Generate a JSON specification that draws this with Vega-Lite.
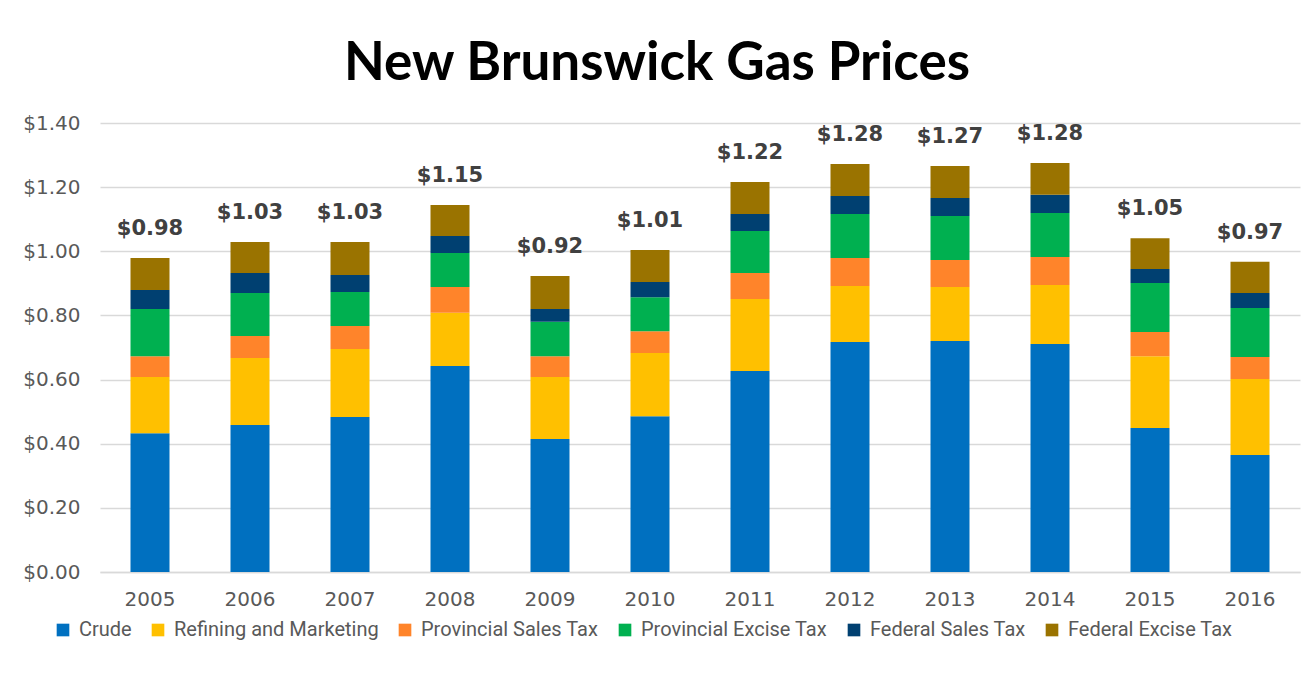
{
  "$schema": "https://vega.github.io/schema/vega-lite/v6.json",
  "autosize": "none",
  "width": 1200,
  "height": 449,
  "padding": {"left": 100, "top": 123, "right": 6, "bottom": 105},
  "background": "white",
  "title": {
    "text": "New Brunswick Gas Prices",
    "font": "Lato",
    "fontSize": 53,
    "fontWeight": "bold",
    "color": "black",
    "anchor": "middle",
    "dx": -43,
    "dy": 52,
    "baseline": "alphabetic",
    "offset": 32
  },
  "datasets": {
    "segments": [
      {"year": "2005", "component": "Crude", "k": 1, "value": 0.433},
      {"year": "2005", "component": "Refining and Marketing", "k": 2, "value": 0.175},
      {"year": "2005", "component": "Provincial Sales Tax", "k": 3, "value": 0.065},
      {"year": "2005", "component": "Provincial Excise Tax", "k": 4, "value": 0.147},
      {"year": "2005", "component": "Federal Sales Tax", "k": 5, "value": 0.059},
      {"year": "2005", "component": "Federal Excise Tax", "k": 6, "value": 0.100},
      {"year": "2006", "component": "Crude", "k": 1, "value": 0.458},
      {"year": "2006", "component": "Refining and Marketing", "k": 2, "value": 0.209},
      {"year": "2006", "component": "Provincial Sales Tax", "k": 3, "value": 0.069},
      {"year": "2006", "component": "Provincial Excise Tax", "k": 4, "value": 0.134},
      {"year": "2006", "component": "Federal Sales Tax", "k": 5, "value": 0.062},
      {"year": "2006", "component": "Federal Excise Tax", "k": 6, "value": 0.097},
      {"year": "2007", "component": "Crude", "k": 1, "value": 0.483},
      {"year": "2007", "component": "Refining and Marketing", "k": 2, "value": 0.212},
      {"year": "2007", "component": "Provincial Sales Tax", "k": 3, "value": 0.072},
      {"year": "2007", "component": "Provincial Excise Tax", "k": 4, "value": 0.106},
      {"year": "2007", "component": "Federal Sales Tax", "k": 5, "value": 0.053},
      {"year": "2007", "component": "Federal Excise Tax", "k": 6, "value": 0.103},
      {"year": "2008", "component": "Crude", "k": 1, "value": 0.642},
      {"year": "2008", "component": "Refining and Marketing", "k": 2, "value": 0.166},
      {"year": "2008", "component": "Provincial Sales Tax", "k": 3, "value": 0.081},
      {"year": "2008", "component": "Provincial Excise Tax", "k": 4, "value": 0.106},
      {"year": "2008", "component": "Federal Sales Tax", "k": 5, "value": 0.053},
      {"year": "2008", "component": "Federal Excise Tax", "k": 6, "value": 0.096},
      {"year": "2009", "component": "Crude", "k": 1, "value": 0.415},
      {"year": "2009", "component": "Refining and Marketing", "k": 2, "value": 0.193},
      {"year": "2009", "component": "Provincial Sales Tax", "k": 3, "value": 0.065},
      {"year": "2009", "component": "Provincial Excise Tax", "k": 4, "value": 0.107},
      {"year": "2009", "component": "Federal Sales Tax", "k": 5, "value": 0.040},
      {"year": "2009", "component": "Federal Excise Tax", "k": 6, "value": 0.103},
      {"year": "2010", "component": "Crude", "k": 1, "value": 0.486},
      {"year": "2010", "component": "Refining and Marketing", "k": 2, "value": 0.197},
      {"year": "2010", "component": "Provincial Sales Tax", "k": 3, "value": 0.068},
      {"year": "2010", "component": "Provincial Excise Tax", "k": 4, "value": 0.106},
      {"year": "2010", "component": "Federal Sales Tax", "k": 5, "value": 0.047},
      {"year": "2010", "component": "Federal Excise Tax", "k": 6, "value": 0.100},
      {"year": "2011", "component": "Crude", "k": 1, "value": 0.627},
      {"year": "2011", "component": "Refining and Marketing", "k": 2, "value": 0.224},
      {"year": "2011", "component": "Provincial Sales Tax", "k": 3, "value": 0.081},
      {"year": "2011", "component": "Provincial Excise Tax", "k": 4, "value": 0.131},
      {"year": "2011", "component": "Federal Sales Tax", "k": 5, "value": 0.053},
      {"year": "2011", "component": "Federal Excise Tax", "k": 6, "value": 0.100},
      {"year": "2012", "component": "Crude", "k": 1, "value": 0.717},
      {"year": "2012", "component": "Refining and Marketing", "k": 2, "value": 0.175},
      {"year": "2012", "component": "Provincial Sales Tax", "k": 3, "value": 0.087},
      {"year": "2012", "component": "Provincial Excise Tax", "k": 4, "value": 0.137},
      {"year": "2012", "component": "Federal Sales Tax", "k": 5, "value": 0.056},
      {"year": "2012", "component": "Federal Excise Tax", "k": 6, "value": 0.100},
      {"year": "2013", "component": "Crude", "k": 1, "value": 0.720},
      {"year": "2013", "component": "Refining and Marketing", "k": 2, "value": 0.169},
      {"year": "2013", "component": "Provincial Sales Tax", "k": 3, "value": 0.084},
      {"year": "2013", "component": "Provincial Excise Tax", "k": 4, "value": 0.137},
      {"year": "2013", "component": "Federal Sales Tax", "k": 5, "value": 0.056},
      {"year": "2013", "component": "Federal Excise Tax", "k": 6, "value": 0.100},
      {"year": "2014", "component": "Crude", "k": 1, "value": 0.711},
      {"year": "2014", "component": "Refining and Marketing", "k": 2, "value": 0.184},
      {"year": "2014", "component": "Provincial Sales Tax", "k": 3, "value": 0.087},
      {"year": "2014", "component": "Provincial Excise Tax", "k": 4, "value": 0.137},
      {"year": "2014", "component": "Federal Sales Tax", "k": 5, "value": 0.057},
      {"year": "2014", "component": "Federal Excise Tax", "k": 6, "value": 0.099},
      {"year": "2015", "component": "Crude", "k": 1, "value": 0.449},
      {"year": "2015", "component": "Refining and Marketing", "k": 2, "value": 0.224},
      {"year": "2015", "component": "Provincial Sales Tax", "k": 3, "value": 0.075},
      {"year": "2015", "component": "Provincial Excise Tax", "k": 4, "value": 0.153},
      {"year": "2015", "component": "Federal Sales Tax", "k": 5, "value": 0.044},
      {"year": "2015", "component": "Federal Excise Tax", "k": 6, "value": 0.096},
      {"year": "2016", "component": "Crude", "k": 1, "value": 0.365},
      {"year": "2016", "component": "Refining and Marketing", "k": 2, "value": 0.237},
      {"year": "2016", "component": "Provincial Sales Tax", "k": 3, "value": 0.068},
      {"year": "2016", "component": "Provincial Excise Tax", "k": 4, "value": 0.153},
      {"year": "2016", "component": "Federal Sales Tax", "k": 5, "value": 0.047},
      {"year": "2016", "component": "Federal Excise Tax", "k": 6, "value": 0.097}
    ],
    "totals": [
      {"year": "2005", "top": 0.979, "label": 0.98},
      {"year": "2006", "top": 1.029, "label": 1.03},
      {"year": "2007", "top": 1.029, "label": 1.03},
      {"year": "2008", "top": 1.144, "label": 1.15},
      {"year": "2009", "top": 0.923, "label": 0.92},
      {"year": "2010", "top": 1.004, "label": 1.01},
      {"year": "2011", "top": 1.216, "label": 1.22},
      {"year": "2012", "top": 1.272, "label": 1.28},
      {"year": "2013", "top": 1.266, "label": 1.27},
      {"year": "2014", "top": 1.275, "label": 1.28},
      {"year": "2015", "top": 1.041, "label": 1.05},
      {"year": "2016", "top": 0.967, "label": 0.97}
    ]
  },
  "layer": [
    {
      "data": {"name": "segments"},
      "mark": {"type": "bar", "size": 39},
      "encoding": {
        "x": {
          "field": "year", "type": "nominal",
          "scale": {"paddingInner": 0, "paddingOuter": 0},
          "axis": {
            "title": null, "labelAngle": 0, "ticks": false,
            "domain": true, "domainColor": "#d9d9d9", "domainWidth": 1.5,
            "labelFont": "DejaVu Sans", "labelFontSize": 20, "labelColor": "#595959",
            "labelPadding": 17, "grid": false
          }
        },
        "y": {
          "field": "value", "type": "quantitative", "stack": "zero",
          "scale": {"domain": [0, 1.4], "nice": false},
          "axis": {
            "title": null, "format": "$.2f", "values": [0, 0.2, 0.4, 0.6, 0.8, 1.0, 1.2, 1.4],
            "domain": false, "ticks": false, "grid": true,
            "gridColor": "#d9d9d9", "gridWidth": 1.5,
            "labelFont": "DejaVu Sans", "labelFontSize": 20, "labelColor": "#595959",
            "labelPadding": 20
          }
        },
        "color": {
          "field": "component", "type": "nominal",
          "scale": {
            "domain": ["Crude", "Refining and Marketing", "Provincial Sales Tax", "Provincial Excise Tax", "Federal Sales Tax", "Federal Excise Tax"],
            "range": ["#0070C0", "#FFC000", "#FF842A", "#00B050", "#004071", "#9A7300"]
          },
          "legend": {
            "title": null, "orient": "none", "direction": "horizontal",
            "legendX": -47, "legendY": 497,
            "symbolType": "square", "symbolSize": 160, "symbolStrokeWidth": 0,
            "labelFont": "Roboto", "labelFontSize": 20, "labelColor": "#595959",
            "labelOffset": 6, "columnPadding": 16, "labelLimit": 0
          }
        },
        "order": {"field": "k", "type": "quantitative"}
      }
    },
    {
      "data": {"name": "totals"},
      "mark": {
        "type": "text", "font": "DejaVu Sans", "fontWeight": "bold", "fontSize": 21,
        "color": "#404040", "baseline": "middle", "dy": -29
      },
      "encoding": {
        "x": {"field": "year", "type": "nominal"},
        "y": {"field": "top", "type": "quantitative"},
        "text": {"field": "label", "type": "quantitative", "format": "$.2f"}
      }
    }
  ],
  "config": {"view": {"stroke": null}}
}
